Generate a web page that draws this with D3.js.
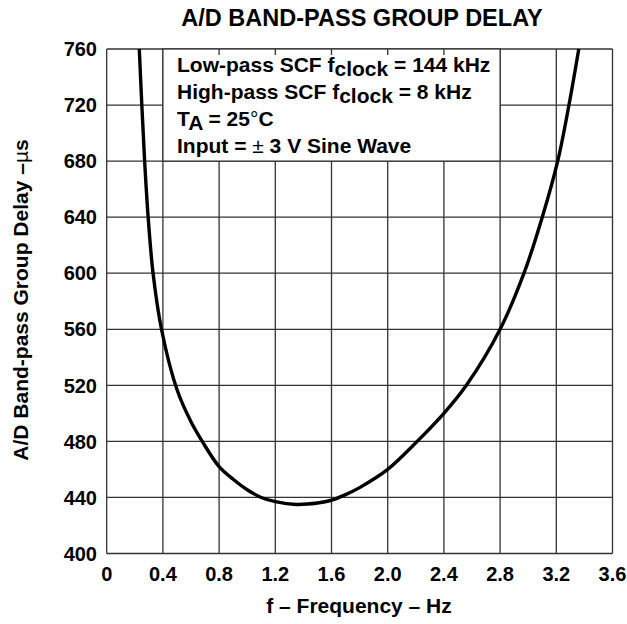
<!DOCTYPE html>
<html><head><meta charset="utf-8">
<script src="https://cdn.jsdelivr.net/npm/d3@7"></script>
<style>
body{margin:0;background:#fff;}
text{font-family:"Liberation Sans",Arial,Helvetica,sans-serif;font-weight:bold;fill:#000;}
</style></head>
<body>
<svg id="chart" width="627" height="624"></svg>
<script>
const freq  = [0.232,0.250,0.270,0.295,0.330,0.390,0.500,0.600,0.680,0.800,0.900,1.000,1.100,1.200,1.350,1.500,1.600,1.700,1.800,2.000,2.200,2.400,2.560,2.800,2.970,3.100,3.210,3.290,3.360];
const delay = [760,720,680,640,600,560,517,494,480,462,453,445.5,440,437,435,436,438,442,447,460,479,500,520,560,600,640,680,720,760];
const xTicks = [0,0.4,0.8,1.2,1.6,2.0,2.4,2.8,3.2,3.6];
const xTickLabels = ["0","0.4","0.8","1.2","1.6","2.0","2.4","2.8","3.2","3.6"];
const yTicks = [400,440,480,520,560,600,640,680,720,760];
const title = "A/D BAND-PASS GROUP DELAY";
const xTitle = "f \u2013 Frequency \u2013 Hz";

const svg = d3.select("#chart");
const x = d3.scaleLinear().domain([0,3.6]).range([106.7,612.5]);
const y = d3.scaleLinear().domain([400,760]).range([553.5,49]);
const gridColor = "#333";

// grid
const g = svg.append("g");
g.selectAll("line.v").data(xTicks).join("line")
  .attr("x1",d=>x(d)).attr("x2",d=>x(d)).attr("y1",y(400)).attr("y2",y(760))
  .attr("stroke",gridColor).attr("stroke-width",1.3);
g.selectAll("line.h").data(yTicks).join("line")
  .attr("x1",x(0)).attr("x2",x(3.6)).attr("y1",d=>y(d)).attr("y2",d=>y(d))
  .attr("stroke",gridColor).attr("stroke-width",1.3);

// legend box
svg.append("rect").attr("x",x(0.4)).attr("y",y(760)).attr("width",x(2.8)-x(0.4)).attr("height",y(680)-y(760))
  .attr("fill","#fff").attr("stroke",gridColor).attr("stroke-width",1.3);
svg.selectAll("line.stub").data(xTicks.filter(d=>d>0.4&&d<2.8)).join("line")
  .attr("x1",d=>x(d)).attr("x2",d=>x(d)).attr("y1",y(760)).attr("y2",y(760)+6)
  .attr("stroke",gridColor).attr("stroke-width",1.3);

// curve
const line = d3.line().x((d,i)=>x(freq[i])).y(d=>y(d)).curve(d3.curveCatmullRom.alpha(0.5));
svg.append("path").attr("d",line(delay)).attr("fill","none").attr("stroke","#000").attr("stroke-width",3.4)
  .attr("stroke-linejoin","round");

// tick labels
svg.selectAll("text.yt").data(yTicks).join("text")
  .attr("x",97).attr("y",d=>y(d)).attr("dy","0.36em").attr("text-anchor","end")
  .style("font-size","20px").text(d=>d);
svg.selectAll("text.xt").data(xTicks).join("text")
  .attr("x",d=>x(d)).attr("y",581).attr("text-anchor","middle")
  .style("font-size","20px").text((d,i)=>xTickLabels[i]);

// title
svg.append("text").attr("x",362).attr("y",26).attr("text-anchor","middle").style("font-size","23.5px").text(title);
// x title
svg.append("text").attr("x",359).attr("y",613).attr("text-anchor","middle").style("font-size","21px").text(xTitle);
// y title
const yt = svg.append("text").attr("transform","translate(28,300) rotate(-90)").attr("text-anchor","middle").style("font-size","21px");
yt.append("tspan").text("A/D Band-pass Group Delay \u2013");
yt.append("tspan").style("font-weight","normal").text("\u00b5");
yt.append("tspan").text("s");

// legend text
const lx = 177, ly = [72,99,126,153];
const fs = "21px";
let t = svg.append("text").attr("x",lx).attr("y",ly[0]).style("font-size",fs);
t.append("tspan").text("Low-pass SCF f");
t.append("tspan").attr("dy",4).text("clock");
t.append("tspan").attr("dy",-4).text(" = 144 kHz");
t = svg.append("text").attr("x",lx).attr("y",ly[1]).style("font-size",fs);
t.append("tspan").text("High-pass SCF f");
t.append("tspan").attr("dy",4).text("clock");
t.append("tspan").attr("dy",-4).text(" = 8 kHz");
t = svg.append("text").attr("x",lx).attr("y",ly[2]).style("font-size",fs);
t.append("tspan").text("T");
t.append("tspan").attr("dy",4).text("A");
t.append("tspan").attr("dy",-4).text(" = 25");
t.append("tspan").style("font-weight","normal").text("\u00b0");
t.append("tspan").text("C");
t = svg.append("text").attr("x",lx).attr("y",ly[3]).style("font-size",fs);
t.append("tspan").text("Input = ");
t.append("tspan").style("font-weight","normal").text("\u00b1");
t.append("tspan").text(" 3 V Sine Wave");
</script>
</body></html>
